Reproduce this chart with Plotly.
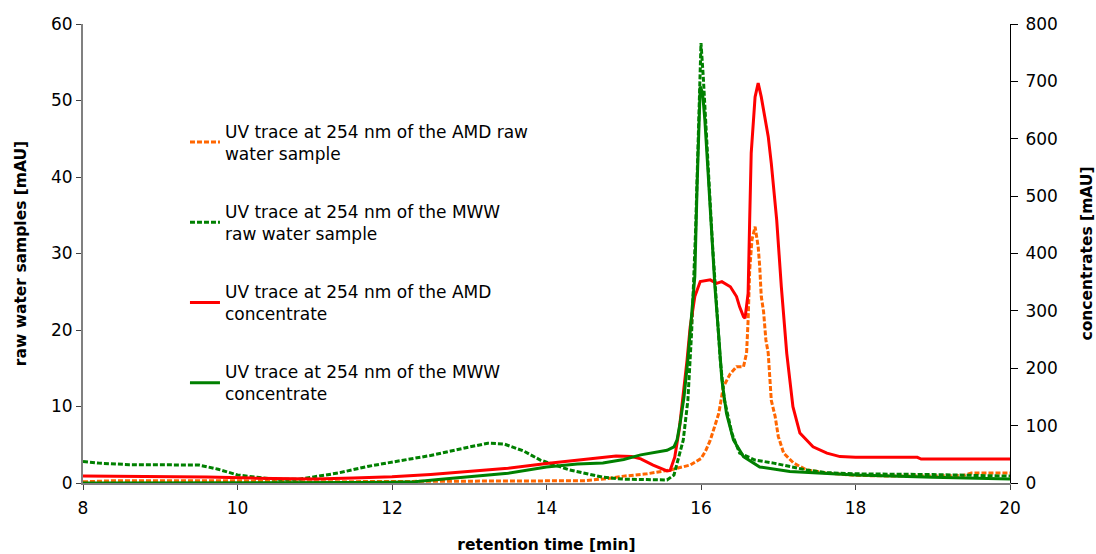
import plotly.graph_objects as go

# Retention time [min] and UV absorbance at 254 nm [mAU]

# AMD raw water sample (left axis)
t_amd_raw = [8.0, 8.4, 9.0, 10.0, 10.5, 11.0, 12.0, 13.0, 14.0, 14.5, 14.8, 15.0, 15.3, 15.6,
             15.86, 16.0, 16.06, 16.12, 16.18, 16.23, 16.29, 16.38, 16.46, 16.55, 16.59, 16.61,
             16.63, 16.66, 16.70, 16.74, 16.76, 16.78, 16.81, 16.84, 16.87, 16.89, 16.91, 16.96,
             17.0, 17.07, 17.2, 17.37, 17.63, 18.0, 18.5, 19.0, 19.4, 19.5, 20.0]
uv_amd_raw = [0.15, 0.3, 0.3, 0.3, 0.2, 0.15, 0.2, 0.25, 0.25, 0.3, 0.6, 0.9, 1.2, 1.7,
              2.35, 3.2, 4.2, 5.6, 7.5, 9.1, 12.6, 14.3, 15.2, 15.2, 17.0, 21.3,
              27.8, 31.8, 33.5, 30.9, 28.3, 24.4, 22.4, 18.7, 17.0, 13.5, 10.8, 8.7,
              6.1, 3.9, 2.6, 1.7, 1.3, 1.0, 0.9, 0.9, 1.0, 1.3, 1.3]

# MWW raw water sample (left axis)
t_mww_raw = [8.0, 8.2, 8.6, 9.0, 9.5, 9.75, 10.0, 10.25, 10.5, 10.8, 11.0, 11.3, 11.7, 12.0,
             12.5, 13.0, 13.24, 13.45, 13.7, 13.92, 14.3, 14.73, 15.0, 15.3, 15.56, 15.65,
             15.7, 15.77, 15.83, 15.88, 15.93, 15.97, 16.0, 16.03, 16.06, 16.1, 16.15, 16.2,
             16.25, 16.3, 16.4, 16.5, 16.7, 16.94, 17.37, 17.63, 18.0, 19.0, 20.0]
uv_mww_raw = [2.8, 2.6, 2.4, 2.35, 2.35, 1.8, 1.05, 0.75, 0.5, 0.5, 0.8, 1.3, 2.2, 2.7,
              3.6, 4.7, 5.2, 5.1, 4.2, 3.0, 1.7, 0.75, 0.5, 0.45, 0.4, 1.05,
              3.0, 5.6, 10.8, 20.0, 33.0, 47.0, 57.5, 53.0, 48.0, 40.0, 31.0, 23.0,
              16.0, 11.0, 6.5, 3.9, 3.0, 2.6, 1.7, 1.35, 1.2, 1.1, 0.9]

# AMD concentrate (right axis)
t_amd_conc = [8.0, 9.4, 9.6, 10.2, 10.6, 11.0, 11.5, 12.0, 12.5, 13.0, 13.5, 14.0, 14.5, 14.9,
              15.1, 15.22, 15.38, 15.56, 15.6, 15.66, 15.72, 15.77, 15.82, 15.86, 15.92, 15.99,
              16.12, 16.2, 16.27, 16.38, 16.46, 16.5, 16.55, 16.57, 16.61, 16.63, 16.65, 16.70,
              16.74, 16.78, 16.83, 16.87, 16.91, 16.98, 17.04, 17.11, 17.19, 17.28, 17.45, 17.63,
              17.8, 18.0, 18.8, 18.85, 20.0]
uv_amd_conc = [12, 11.5, 10.5, 8.5, 7.5, 7, 8.5, 11, 15, 19.7, 25.6, 34, 41, 47,
               46, 42, 31, 21, 22, 45, 95, 150, 215, 272, 325, 351,
               354, 348, 351, 342, 325, 307, 290, 287, 331, 458, 575, 673,
               697, 673, 633, 604, 557, 458, 342, 226, 133, 87, 63, 52,
               46, 44.7, 44.7, 41.8, 41.8]

# MWW concentrate (right axis)
t_mww_conc = [8.0, 10.0, 11.0, 11.5, 12.0, 12.3, 12.6, 13.0, 13.5, 14.0, 14.4, 14.73, 15.0,
              15.22, 15.56, 15.65, 15.69, 15.73, 15.78, 15.83, 15.88, 15.92, 15.95, 15.99,
              16.02, 16.05, 16.09, 16.14, 16.18, 16.23, 16.27, 16.33, 16.42, 16.55, 16.76,
              17.15, 17.63, 18.0, 19.0, 20.0]
uv_mww_conc = [0, 0, 0.5, 1, 1.5, 2.3, 6, 10.7, 17, 28, 33, 35, 41,
               49, 57, 63, 75, 105, 150, 215, 290, 360, 520, 691,
               680, 633, 545, 429, 342, 255, 180, 121, 75, 46, 28,
               20, 16, 14, 10, 7]

left_ticks = [0, 10, 20, 30, 40, 50, 60]
right_ticks = [0, 100, 200, 300, 400, 500, 600, 700, 800]
x_ticks = [8, 10, 12, 14, 16, 18, 20]

ORANGE = "#FF6600"
GREEN = "#008000"
RED = "#FF0000"
FONT = "DejaVu Sans, Liberation Sans, sans-serif"
DOTS = "5px,2px"

fig = go.Figure()

fig.add_trace(go.Scatter(
    x=t_amd_raw, y=uv_amd_raw, mode="lines", yaxis="y",
    name="UV trace at 254 nm of the AMD raw<br>water sample", legendgroup="a",
    line=dict(color=ORANGE, width=3, dash=DOTS)))
fig.add_trace(go.Scatter(
    x=t_mww_raw, y=uv_mww_raw, mode="lines", yaxis="y",
    name="UV trace at 254 nm of the MWW<br>raw water sample", legendgroup="b",
    line=dict(color=GREEN, width=3, dash=DOTS)))
fig.add_trace(go.Scatter(
    x=t_amd_conc, y=uv_amd_conc, mode="lines", yaxis="y2",
    name="UV trace at 254 nm of the AMD<br>concentrate", legendgroup="c",
    line=dict(color=RED, width=3)))
fig.add_trace(go.Scatter(
    x=t_mww_conc, y=uv_mww_conc, mode="lines", yaxis="y2",
    name="UV trace at 254 nm of the MWW<br>concentrate", legendgroup="d",
    line=dict(color=GREEN, width=3)))

fig.update_layout(
    width=1096, height=554,
    margin=dict(l=83, r=86, t=24, b=71),
    paper_bgcolor="white", plot_bgcolor="white",
    font=dict(family=FONT, size=17, color="black"),
    showlegend=True,
    legend=dict(x=0.11, y=0.805, xanchor="left", yanchor="top",
                bgcolor="rgba(0,0,0,0)", borderwidth=0,
                traceorder="grouped", tracegroupgap=33,
                font=dict(family=FONT, size=17, color="black")),
    xaxis=dict(range=[8, 20], tickvals=x_ticks, showgrid=False, zeroline=False,
               automargin=False,
               showline=True, linecolor="#808080", linewidth=2,
               ticks="outside", ticklen=5, tickcolor="#404040", tickwidth=1,
               tickfont=dict(size=17), ticklabelstandoff=4,
               title=dict(text="<b>retention time [min]</b>", font=dict(size=15.5), standoff=27)),
    yaxis=dict(range=[0, 60], tickvals=left_ticks, showgrid=False, zeroline=False,
               automargin=False,
               showline=True, linecolor="#808080", linewidth=2,
               ticks="outside", ticklen=5, tickcolor="#404040", tickwidth=1,
               tickfont=dict(size=17),
               title=dict(text="<b>raw water samples [mAU]</b>", font=dict(size=15.5), standoff=21)),
    yaxis2=dict(range=[0, 800], tickvals=right_ticks, overlaying="y", side="right",
                automargin=False,
                showgrid=False, zeroline=False,
                showline=True, linecolor="black", linewidth=1,
                ticks="outside", ticklen=7, tickcolor="black", tickwidth=1,
                tickfont=dict(size=17), ticklabelstandoff=4,
                title=dict(text="<b>concentrates [mAU]</b>", font=dict(size=15.5), standoff=28)),
    yaxis3=dict(range=[0, 800], tickvals=right_ticks, overlaying="y", side="right",
                anchor="x", automargin=False, showgrid=False, zeroline=False, showline=False,
                showticklabels=False, ticks="inside", ticklen=6,
                tickcolor="black", tickwidth=1),
)

fig.write_html("out.html")
